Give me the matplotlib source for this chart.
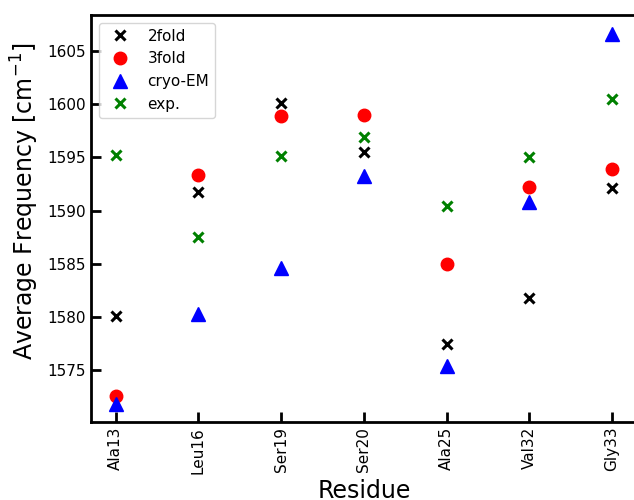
import numpy as np
import matplotlib
matplotlib.use('Agg')
import matplotlib.pyplot as plt

residues = ['Ala13', 'Leu16', 'Ser19', 'Ser20', 'Ala25', 'Val32', 'Gly33']
twofold = [1580.1, 1591.7, 1600.1, 1595.5, 1577.5, 1581.8, 1592.1]
threefold = [1572.6, 1593.3, 1598.9, 1599.0, 1585.0, 1592.2, 1593.9]
cryo_em = [1571.9, 1580.3, 1584.6, 1593.2, 1575.4, 1590.8, 1606.6]
exp_vals = [1595.2, 1587.5, 1595.1, 1596.9, 1590.4, 1595.0, 1600.5]

x = np.arange(len(residues))

fig = plt.figure(figsize=(6.34, 5.0), dpi=100)
# right spine falls just outside the saved picture, as in the original
ax = fig.add_axes([0.1435, 0.156, 0.861, 0.814])

ax.plot(x, twofold, 'x', color='k', ms=6.5, mew=2.2, label='2fold')
ax.plot(x, threefold, 'o', color='r', ms=9, label='3fold')
ax.plot(x, cryo_em, '^', color='b', ms=10, label='cryo-EM')
ax.plot(x, exp_vals, 'x', color='g', ms=6.5, mew=2.2, label='exp.')

ax.set_xticks(x)
ax.set_xticklabels(residues, rotation=90)
ax.set_yticks([1575, 1580, 1585, 1590, 1595, 1600, 1605])
ax.tick_params(direction='in', length=7, width=2, labelsize=11)
for s in ax.spines.values():
    s.set_linewidth(2)

ax.set_xlabel('Residue', fontsize=17, labelpad=4)
ax.set_ylabel('Average Frequency [cm$^{-1}$]', fontsize=17)
ax.yaxis.set_label_coords(-0.092, 0.543)
ax.legend(loc='upper left', fontsize=11, numpoints=1)

fig.savefig('out.png', dpi=100)
